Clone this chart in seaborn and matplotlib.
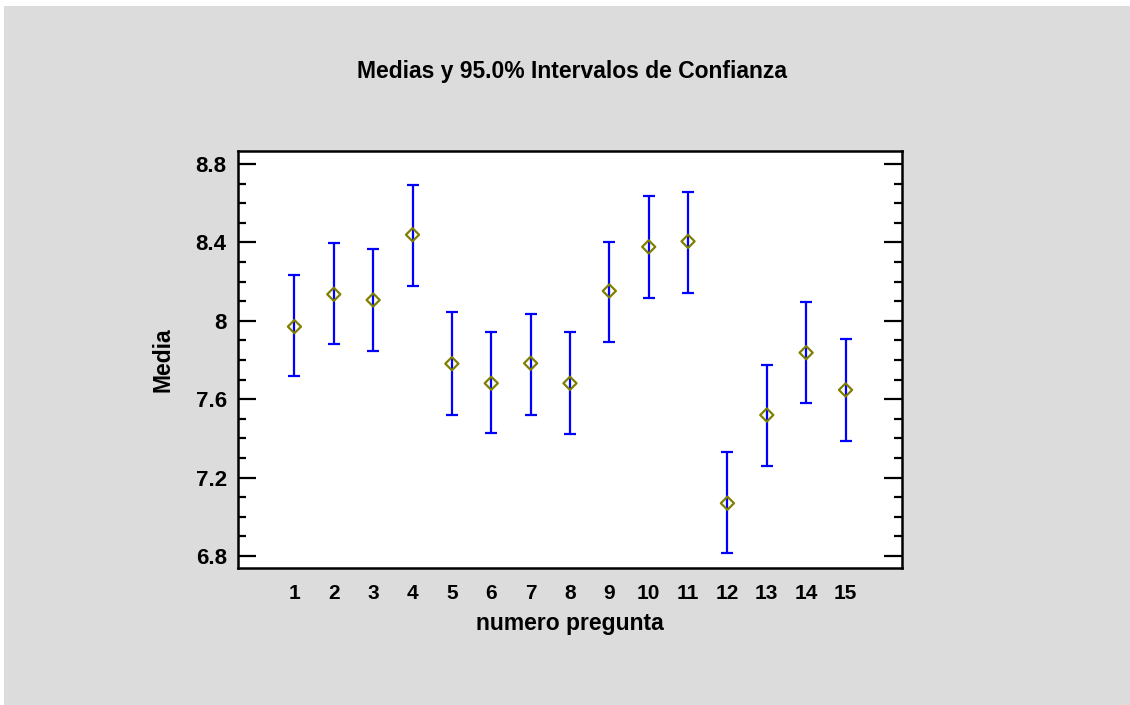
import numpy as np
import pandas as pd
import seaborn as sns
import matplotlib.pyplot as plt
from matplotlib.patches import Rectangle
from matplotlib.ticker import MultipleLocator

# question number, mean, lower and upper 95% limits
preguntas = list(range(1, 16))
medias = [7.97, 8.135, 8.106, 8.439, 7.781, 7.681, 7.783, 7.681, 8.152, 8.377, 8.405, 7.069, 7.519, 7.837, 7.647]
limite_inf = [7.718, 7.882, 7.846, 8.179, 7.521, 7.429, 7.519, 7.421, 7.890, 8.115, 8.142, 6.817, 7.259, 7.582, 7.385]
limite_sup = [8.234, 8.395, 8.368, 8.695, 8.043, 7.943, 8.035, 7.943, 8.404, 8.637, 8.657, 7.331, 7.773, 8.098, 7.909]

df = pd.DataFrame({'pregunta': preguntas, 'media': medias,
                   'inf': limite_inf, 'sup': limite_sup})

sns.set_style('white')
plt.rcParams['font.family'] = ['Liberation Sans', 'DejaVu Sans']
plt.rcParams['text.color'] = 'black'
plt.rcParams['axes.labelcolor'] = 'black'
plt.rcParams['xtick.color'] = 'black'
plt.rcParams['ytick.color'] = 'black'

fig = plt.figure(figsize=(11.3, 7.05), dpi=100, facecolor='white')
# grey panel behind everything
fig.patches.append(Rectangle((4 / 1130, 0), 1, 1 - 6 / 705, transform=fig.transFigure,
                             facecolor='#dcdcdc', edgecolor='none', zorder=-10))

ax = fig.add_axes([0.2104, 0.1939, 0.588, 0.5919])
ax.set_facecolor('white')

# error bars
ax.errorbar(df['pregunta'], df['media'],
            yerr=[df['media'] - df['inf'], df['sup'] - df['media']],
            fmt='none', ecolor='#0000ff', elinewidth=1.6, capsize=4.5, capthick=1.6, zorder=2)
# means
sns.scatterplot(data=df, x='pregunta', y='media', marker='D', s=45,
                facecolor='none', edgecolor='#808000', linewidth=1.6, ax=ax, zorder=3)

ax.set_xlim(-0.44, 16.44)
ax.set_ylim(6.737, 8.866)
ax.set_xticks(preguntas)
ax.yaxis.set_major_locator(MultipleLocator(0.4))
ax.yaxis.set_minor_locator(MultipleLocator(0.1))
ax.yaxis.set_major_formatter(plt.FuncFormatter(lambda v, p: f'{v:g}'))

ax.tick_params(axis='x', length=0, pad=11, labelsize=15)
ax.tick_params(axis='y', which='major', direction='in', length=13, width=1.6,
               left=True, right=True, labelsize=16, pad=8)
ax.tick_params(axis='y', which='minor', direction='in', length=6, width=1.6,
               left=True, right=True)
for lbl in ax.get_xticklabels() + ax.get_yticklabels():
    lbl.set_fontweight('bold')

for s in ax.spines.values():
    s.set_linewidth(1.8)
    s.set_color('black')

ax.set_xlabel('numero pregunta', fontsize=16.5, fontweight='bold', labelpad=7)
ax.set_ylabel('Media', fontsize=16.5, fontweight='bold', labelpad=15)
fig.text(0.506, 0.898, 'Medias y 95.0% Intervalos de Confianza', ha='center', va='center',
         fontsize=16.5, fontweight='bold')

fig.savefig('out.png', dpi=100, facecolor=fig.get_facecolor())
